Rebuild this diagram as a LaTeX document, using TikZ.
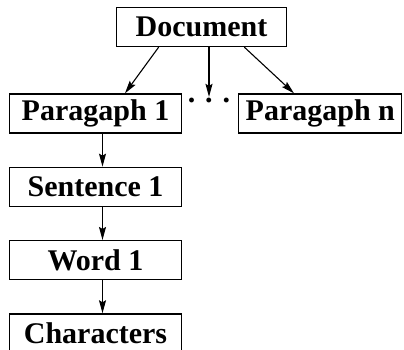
\documentclass[tikz,border=0pt]{standalone}
\usepackage{fontspec}
\setmainfont{Liberation Serif}
\usetikzlibrary{arrows.meta,calc,positioning}
\tikzset{
  level/.style={draw=black, line width=1.3pt, rectangle, minimum width=172pt, minimum height=39pt, inner sep=0pt, font=\fontsize{30}{34}\selectfont\bfseries},
  link/.style={-{Stealth[length=13pt,width=7pt,inset=2pt]}, line width=1.1pt, draw=black}
}

\begin{document}
\begin{tikzpicture}[x=1pt, y=-1pt, node distance=33pt]
  \clip (0,0) rectangle (404,350);
  \node[level, minimum width=170pt] (doc) at (201.5,27) {Document};
  \node[level] (par1) at (95.5,113.5) {Paragaph 1};
  \node[level, minimum width=163pt] (parn) at (320.3,113.5) {Paragaph n};
  \node[anchor=base, inner sep=1.5pt, font=\fontsize{30}{34}\selectfont\bfseries] (dots) at (209,103) {. . .};
  \node[level, below=of par1] (sent) {Sentence 1};
  \node[level, below=of sent] (word) {Word 1};
  \node[level, below=of word] (chars) {Characters};
  \draw[link] ($(doc.south west)!0.25!(doc.south east)$) -- ($(par1.north west)!0.67!(par1.north east)$);
  \draw[link] (doc.south -| dots) -- (dots.north);
  \draw[link] ($(doc.south west)!0.75!(doc.south east)$) -- ($(parn.north west)!0.34!(parn.north east)$);
  \draw[link] ([xshift=7pt]par1.south) -- ([xshift=7pt]sent.north);
  \draw[link] ([xshift=7pt]sent.south) -- ([xshift=7pt]word.north);
  \draw[link] ([xshift=7pt]word.south) -- ([xshift=7pt]chars.north);
\end{tikzpicture}
\end{document}
